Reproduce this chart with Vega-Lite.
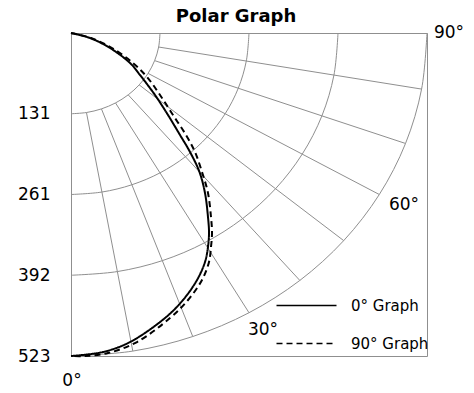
{
  "$schema": "https://vega.github.io/schema/vega-lite/v6.json",
  "width": 356,
  "height": 323,
  "autosize": {"type": "none"},
  "padding": {"left": 71, "top": 33, "right": 47, "bottom": 37},
  "background": "white",
  "title": {"text": "Polar Graph", "fontSize": 18, "font": "DejaVu Sans", "fontWeight": "bold", "color": "black", "frame": "group", "anchor": "middle", "offset": 9, "baseline": "alphabetic", "dx": -13, "dy": 25},
  "config": {"view": {"stroke": "#8f8f8f", "strokeWidth": 1}, "font": "DejaVu Sans"},
  "encoding": {
    "x": {"field": "x", "type": "quantitative", "scale": {"domain": [0, 522.6], "nice": false, "zero": false}, "axis": null},
    "y": {"field": "y", "type": "quantitative", "scale": {"domain": [0, 522.6], "nice": false, "reverse": true},
      "axis": {"values": [130.65, 261.3, 391.95, 522.6], "format": ".0f", "title": null, "domain": false, "ticks": false, "tickSize": 0, "grid": false, "labelPadding": 21, "labelFontSize": 17, "labelColor": "black", "labelFont": "DejaVu Sans"}}
  },
  "layer": [
    {
      "data": {"values": [
        {"ring": "131", "x": 0, "y": 130.65}, {"ring": "131", "x": 22.687, "y": 128.665}, {"ring": "131", "x": 44.685, "y": 122.771}, {"ring": "131", "x": 65.325, "y": 113.147}, {"ring": "131", "x": 83.98, "y": 100.084}, {"ring": "131", "x": 100.084, "y": 83.98}, {"ring": "131", "x": 113.147, "y": 65.325}, {"ring": "131", "x": 122.771, "y": 44.685}, {"ring": "131", "x": 128.665, "y": 22.687}, {"ring": "131", "x": 130.65, "y": 0},
        {"ring": "261", "x": 0, "y": 261.3}, {"ring": "261", "x": 45.374, "y": 257.33}, {"ring": "261", "x": 89.37, "y": 245.542}, {"ring": "261", "x": 130.65, "y": 226.293}, {"ring": "261", "x": 167.96, "y": 200.167}, {"ring": "261", "x": 200.167, "y": 167.96}, {"ring": "261", "x": 226.293, "y": 130.65}, {"ring": "261", "x": 245.542, "y": 89.37}, {"ring": "261", "x": 257.33, "y": 45.374}, {"ring": "261", "x": 261.3, "y": 0},
        {"ring": "392", "x": 0, "y": 391.95}, {"ring": "392", "x": 68.061, "y": 385.996}, {"ring": "392", "x": 134.055, "y": 368.313}, {"ring": "392", "x": 195.975, "y": 339.44}, {"ring": "392", "x": 251.94, "y": 300.251}, {"ring": "392", "x": 300.251, "y": 251.94}, {"ring": "392", "x": 339.44, "y": 195.975}, {"ring": "392", "x": 368.313, "y": 134.055}, {"ring": "392", "x": 385.996, "y": 68.061}, {"ring": "392", "x": 391.95, "y": 0},
        {"ring": "523", "x": 0, "y": 522.6}, {"ring": "523", "x": 90.748, "y": 514.659}, {"ring": "523", "x": 178.74, "y": 491.084}, {"ring": "523", "x": 261.3, "y": 452.585}, {"ring": "523", "x": 335.921, "y": 400.335}, {"ring": "523", "x": 400.335, "y": 335.921}, {"ring": "523", "x": 452.585, "y": 261.3}, {"ring": "523", "x": 491.084, "y": 178.74}, {"ring": "523", "x": 514.659, "y": 90.748}, {"ring": "523", "x": 522.6, "y": 0}
      ]},
      "mark": {"type": "line", "interpolate": "catmull-rom", "color": "#8f8f8f", "strokeWidth": 1},
      "encoding": {"detail": {"field": "ring", "type": "nominal"}}
    },
    {
      "data": {"values": [
        {"angle": 10, "x": 22.687, "y": 128.665, "x2": 90.748, "y2": 514.659},
        {"angle": 20, "x": 44.685, "y": 122.771, "x2": 178.74, "y2": 491.084},
        {"angle": 30, "x": 65.325, "y": 113.147, "x2": 261.3, "y2": 452.585},
        {"angle": 40, "x": 83.98, "y": 100.084, "x2": 335.921, "y2": 400.335},
        {"angle": 50, "x": 100.084, "y": 83.98, "x2": 400.335, "y2": 335.921},
        {"angle": 60, "x": 113.147, "y": 65.325, "x2": 452.585, "y2": 261.3},
        {"angle": 70, "x": 122.771, "y": 44.685, "x2": 491.084, "y2": 178.74},
        {"angle": 80, "x": 128.665, "y": 22.687, "x2": 514.659, "y2": 90.748}
      ]},
      "mark": {"type": "rule", "color": "#8f8f8f", "strokeWidth": 1},
      "encoding": {"x2": {"field": "x2"}, "y2": {"field": "y2"}}
    },
    {
      "data": {"values": [
        {"series": "0° Graph", "x": 0, "y": 0}, {"series": "0° Graph", "x": 27.9, "y": 8.1}, {"series": "0° Graph", "x": 57.3, "y": 24.3}, {"series": "0° Graph", "x": 86.6, "y": 48.5}, {"series": "0° Graph", "x": 101.3, "y": 68.0}, {"series": "0° Graph", "x": 123.3, "y": 100.3}, {"series": "0° Graph", "x": 142.4, "y": 132.7}, {"series": "0° Graph", "x": 160.0, "y": 165.0}, {"series": "0° Graph", "x": 174.7, "y": 192.5}, {"series": "0° Graph", "x": 188.6, "y": 224.9}, {"series": "0° Graph", "x": 196.7, "y": 258.9}, {"series": "0° Graph", "x": 201.1, "y": 297.7}, {"series": "0° Graph", "x": 202.6, "y": 323.6}, {"series": "0° Graph", "x": 201.1, "y": 346.3}, {"series": "0° Graph", "x": 196.7, "y": 370.5}, {"series": "0° Graph", "x": 185.0, "y": 399.6}, {"series": "0° Graph", "x": 164.4, "y": 432.0}, {"series": "0° Graph", "x": 138.0, "y": 461.1}, {"series": "0° Graph", "x": 86.6, "y": 500.0}, {"series": "0° Graph", "x": 47.0, "y": 516.1}, {"series": "0° Graph", "x": 0, "y": 522.6},
        {"series": "90° Graph", "x": 0, "y": 0}, {"series": "90° Graph", "x": 29.4, "y": 8.1}, {"series": "90° Graph", "x": 60.2, "y": 24.3}, {"series": "90° Graph", "x": 91.0, "y": 48.5}, {"series": "90° Graph", "x": 111.6, "y": 71.2}, {"series": "90° Graph", "x": 130.7, "y": 100.3}, {"series": "90° Graph", "x": 149.7, "y": 132.7}, {"series": "90° Graph", "x": 168.8, "y": 165.0}, {"series": "90° Graph", "x": 182.0, "y": 192.5}, {"series": "90° Graph", "x": 192.3, "y": 224.9}, {"series": "90° Graph", "x": 201.1, "y": 258.9}, {"series": "90° Graph", "x": 205.5, "y": 297.7}, {"series": "90° Graph", "x": 207.0, "y": 323.6}, {"series": "90° Graph", "x": 205.5, "y": 346.3}, {"series": "90° Graph", "x": 202.6, "y": 370.5}, {"series": "90° Graph", "x": 192.3, "y": 399.6}, {"series": "90° Graph", "x": 171.8, "y": 432.0}, {"series": "90° Graph", "x": 145.3, "y": 461.1}, {"series": "90° Graph", "x": 96.9, "y": 500.0}, {"series": "90° Graph", "x": 54.3, "y": 517.8}, {"series": "90° Graph", "x": 20.6, "y": 522.6}, {"series": "90° Graph", "x": 0, "y": 522.6}
      ]},
      "mark": {"type": "line", "interpolate": "catmull-rom", "color": "black", "strokeWidth": 2},
      "encoding": {
        "order": {"value": null},
        "strokeDash": {"field": "series", "type": "nominal",
          "scale": {"domain": ["0° Graph", "90° Graph"], "range": [[1, 0], [6, 4]]},
          "legend": {"title": null, "orient": "none", "legendX": 228, "legendY": 265, "symbolType": "M-6,0H6", "symbolSize": 100, "symbolStrokeWidth": 1.5, "symbolStrokeColor": "black", "labelFontSize": 15, "labelFont": "DejaVu Sans", "labelColor": "black", "labelOffset": 37, "rowPadding": 22, "padding": 0}}
      }
    },
    {
      "data": {"values": [
        {"label": "0°", "x": 1.5, "y": 563},
        {"label": "30°", "x": 281.9, "y": 480.5},
        {"label": "60°", "x": 488.8, "y": 278.3},
        {"label": "90°", "x": 554.9, "y": 0}
      ]},
      "mark": {"type": "text", "fontSize": 17, "font": "DejaVu Sans", "color": "black", "align": "center", "baseline": "middle"},
      "encoding": {"text": {"field": "label", "type": "nominal"}}
    }
  ]
}
